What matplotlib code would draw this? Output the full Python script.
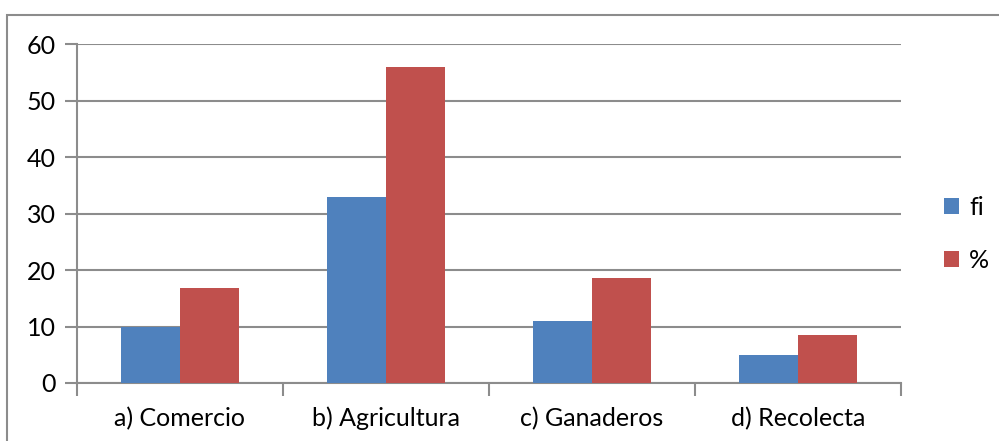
import matplotlib.pyplot as plt
import numpy as np
from matplotlib.patches import Rectangle

# Data
categories = ["a) Comercio", "b) Agricultura", "c) Ganaderos", "d) Recolecta"]
fi = [10, 33, 11, 5]
pct = [16.9, 55.9, 18.6, 8.5]
series_names = ["fi", "%"]
yticks = [0, 10, 20, 30, 40, 50, 60]

plt.rcParams["font.family"] = ["Lato", "DejaVu Sans"]

BLUE = "#4F81BD"
RED = "#C0504D"
GRID = "#8C8C8C"
FS = 18

fig = plt.figure(figsize=(9.99, 4.41), dpi=100)
# outer chart frame (right/bottom fall outside the image)
fig.patches.append(Rectangle((7 / 999, -0.1), 1.2, 1 - 15 / 441 + 0.1,
                             transform=fig.transFigure, fill=False,
                             edgecolor=GRID, linewidth=1.5))

ax = fig.add_axes([77 / 999, 1 - 383 / 441, (901 - 77) / 999, (383 - 44) / 441])

x = np.arange(len(categories))
w = 0.286
ax.bar(x - w / 2, fi, w, color=BLUE, label=series_names[0], zorder=3)
ax.bar(x + w / 2, pct, w, color=RED, label=series_names[1], zorder=3)

ax.set_xlim(-0.5, len(categories) - 0.5)
ax.set_ylim(0, 60)
ax.set_yticks(yticks)
ax.yaxis.grid(True, color=GRID, linewidth=1.5, zorder=0)
ax.tick_params(axis="y", length=9, width=1.5, color=GRID, labelsize=FS, pad=6)

ax.set_xticks(x)
ax.set_xticklabels(categories, fontsize=FS)
ax.tick_params(axis="x", length=0, pad=17)
ax.set_xticks(np.arange(len(categories) + 1) - 0.5, minor=True)
ax.tick_params(axis="x", which="minor", length=9, width=1.5, color=GRID)

for side in ["top", "right"]:
    ax.spines[side].set_visible(False)
for side in ["left", "bottom"]:
    ax.spines[side].set_color(GRID)
    ax.spines[side].set_linewidth(1.5)

ax.legend(loc="center left", bbox_to_anchor=(1.025, 0.44), frameon=False,
          fontsize=FS, handlelength=0.6, handleheight=0.6,
          handletextpad=0.4, labelspacing=1.2)

fig.savefig("out.png", dpi=100)
